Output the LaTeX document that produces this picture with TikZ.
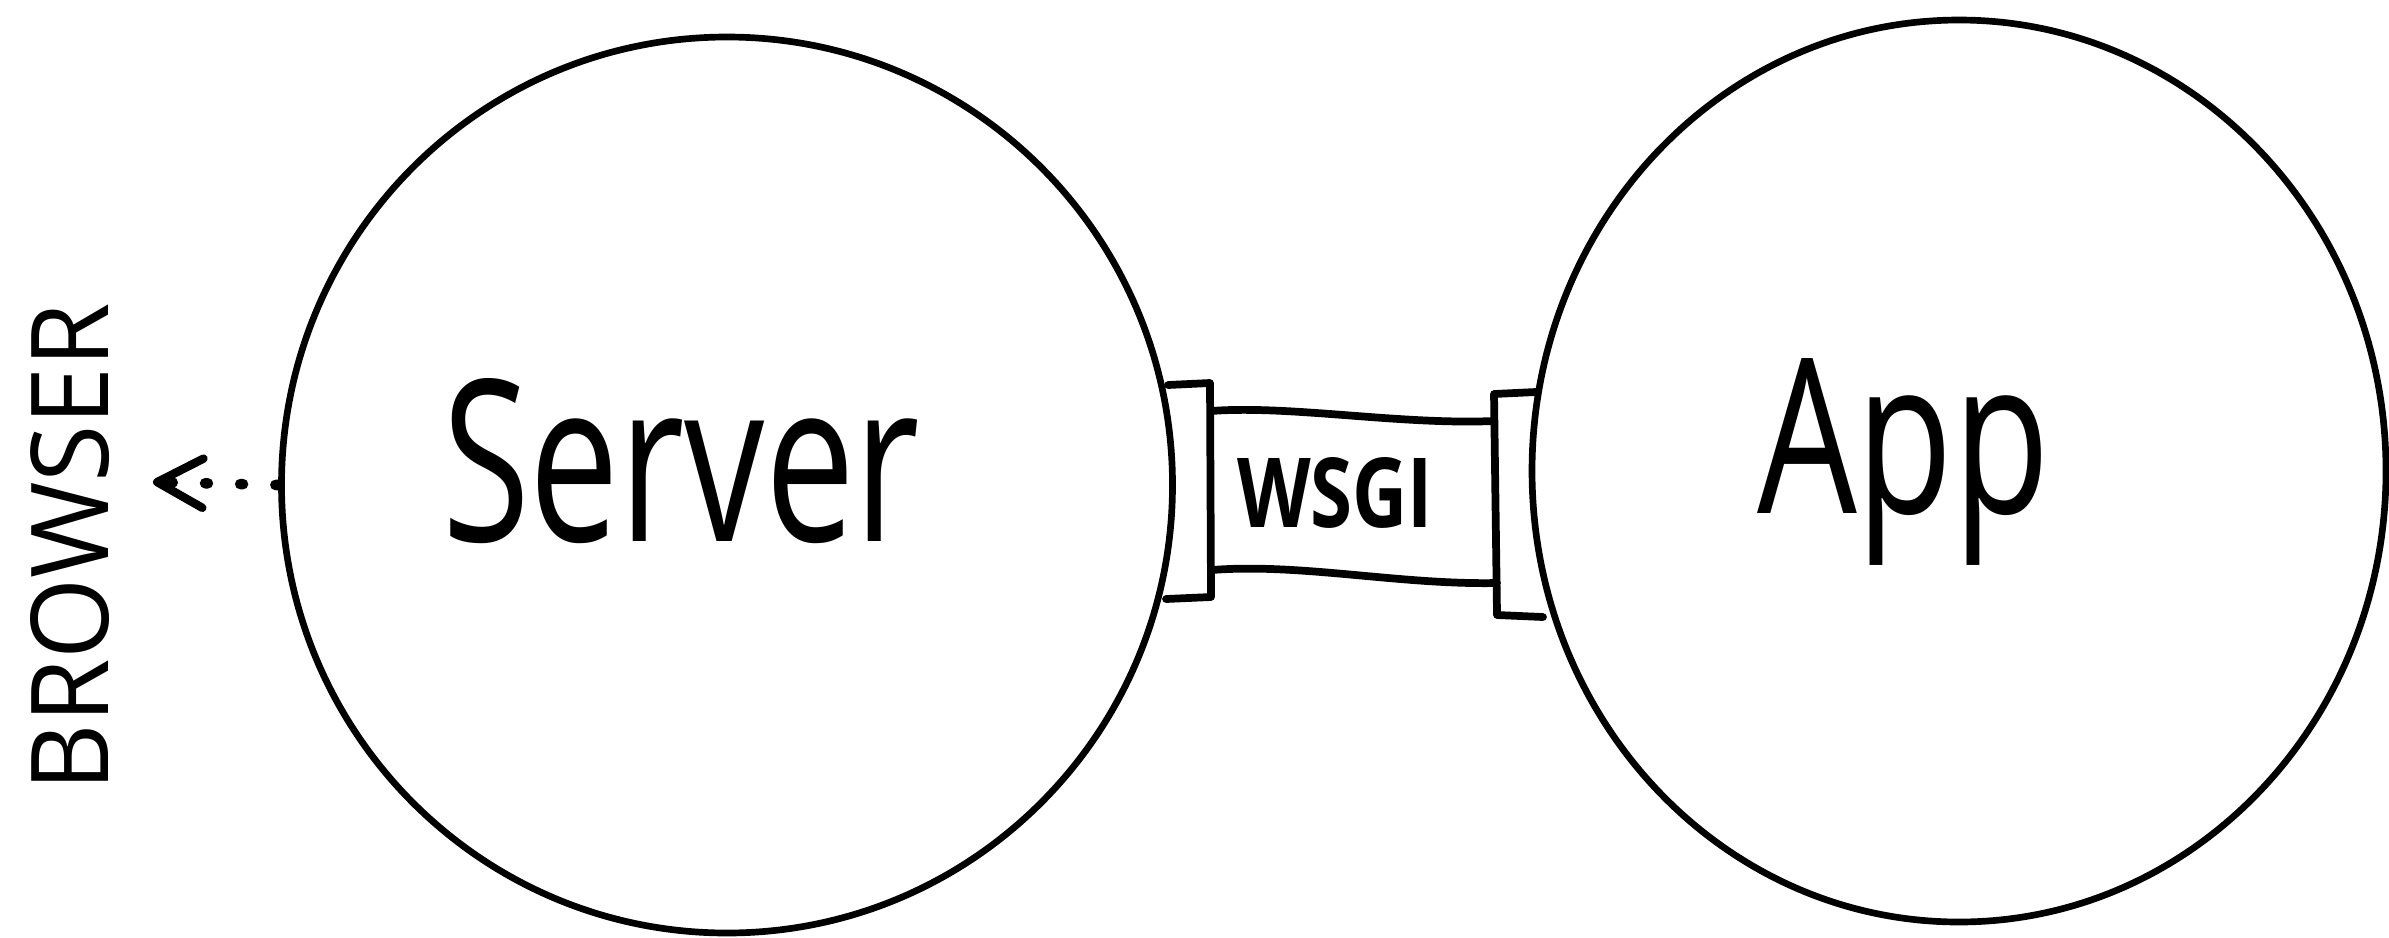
\documentclass[tikz,border=0pt]{standalone}
\usepackage{fontspec}
\setmainfont{Open Sans}
\usepackage{graphicx}
\usetikzlibrary{shapes.geometric,arrows.meta}
\tikzset{
  blob/.style={ellipse, draw=black, line width=1.9pt, inner sep=0pt},
  lbl/.style={inner sep=0pt, outer sep=0pt, anchor=base west, text=black},
  pipe/.style={draw=black, line width=2.2pt, line join=round, line cap=round},
  dotarrow/.style={line width=3pt, line cap=round, dash pattern=on 0.8pt off 9.2pt,
    -{Straight Barb[length=13pt, width=14pt, line width=2.4pt, line cap=round, line join=round]}}
}
\begin{document}
\begin{tikzpicture}[x=0.1mm, y=-0.1mm]
\useasboundingbox[fill=white] (0,0) rectangle (2389,937);

% circles
\node[blob, minimum width=89.1mm, minimum height=89.6mm] (server) at (727,485) {};
\node[blob, minimum width=85.4mm, minimum height=90.2mm] (app) at (1959,471) {};

% labels
\node[lbl] (serverlbl) at (442,541) {\resizebox{47.8mm}{16.3mm}{Server}};
\node[lbl] (applbl) at (1757,513) {\resizebox{29.3mm}{15.5mm}{App}};
\node[lbl] (wsgilbl) at (1237,527) {\resizebox{19.6mm}{7mm}{\bfseries WSGI}};
\node[lbl, rotate=90] (browser) at (108,791) {\resizebox{48.8mm}{7.8mm}{BROWSER}};

% WSGI pipe: flanges and band
\draw[pipe] (1168,385) -- (1210,383) -- (1211,597) -- (1166,599);
\draw[pipe] (1536,392) -- (1494,394) -- (1497,615) -- (1543,617);
\draw[pipe] (1211,411) .. controls (1290,405) and (1400,425) .. (1494,421);
\draw[pipe] (1212,570) .. controls (1300,563) and (1400,585) .. (1497,583);

% arrow to browser
\coordinate (tip) at (153,482);
\draw[dotarrow] (server.west) -- (tip);
\end{tikzpicture}
\end{document}
